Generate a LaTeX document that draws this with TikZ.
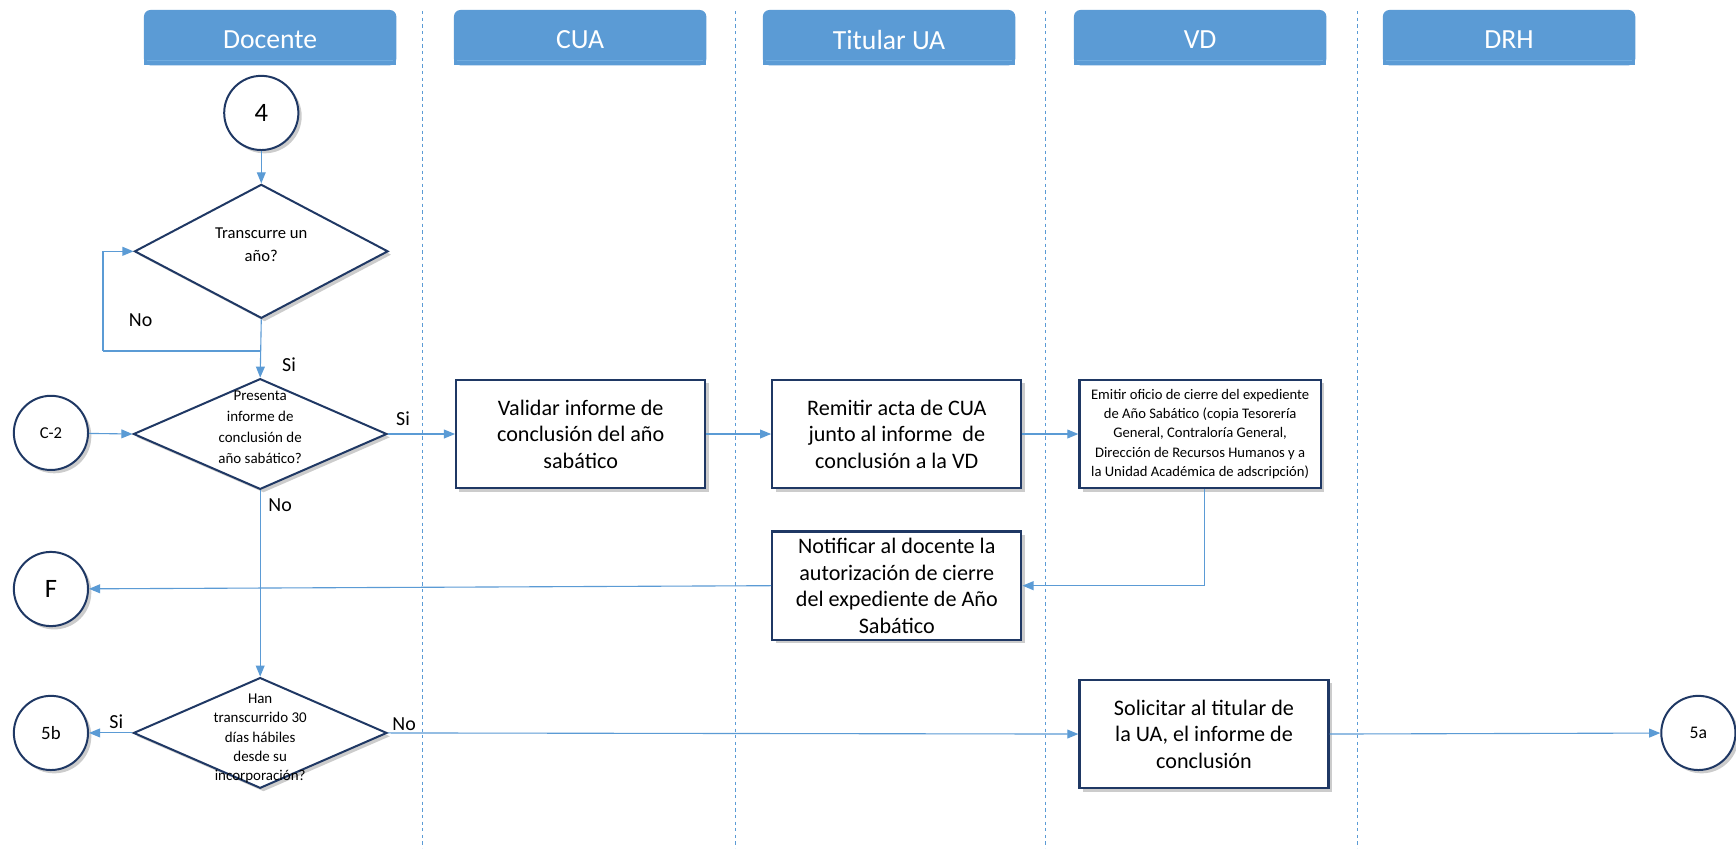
\documentclass[tikz,border=0pt]{standalone}
\usepackage{fontspec}
\setmainfont{Carlito}
\usetikzlibrary{shapes.geometric,arrows.meta,shadows}
\definecolor{hdr}{RGB}{91,155,213}
\definecolor{hdrhi}{RGB}{112,172,224}
\definecolor{lnblue}{RGB}{91,155,213}
\definecolor{navy}{RGB}{31,56,100}
\newcommand\lanehdr[4]{%
  \fill[hdr,rounded corners=6pt] (#2,9) rectangle (#2+228,59);
  \fill[hdr] (#2,30) rectangle (#2+228,59);
  \draw[hdrhi,line width=0.8pt] (#2+3,55) -- (#2+225,55);
  \node[hdrtext] (#1) at (#2+114,36) {#3};
}
\begin{document}
\begin{tikzpicture}[x=1pt,y=-1pt,
  hdrtext/.style={text=white,font=\fontsize{25}{30}\selectfont,inner sep=0pt},
  lane/.style={lnblue,line width=0.8pt,dash pattern=on 3pt off 3pt},
  conn/.style={lnblue,line width=1pt,-{Triangle[length=10pt,width=8pt]}},
  plain/.style={lnblue,line width=1pt},
  shad/.style={drop shadow={shadow xshift=3pt,shadow yshift=-3pt,fill=black,opacity=0.2}},
  procbox/.style={rectangle,draw=navy,line width=2pt,fill=white,shad,
    minimum width=225pt,minimum height=98pt,align=center,inner sep=2pt,
    font=\fontsize{20}{24}\selectfont},
  dec/.style={diamond,draw=navy,line width=1.8pt,fill=white,shad,inner sep=0pt,
    minimum width=229pt},
  dectext/.style={align=center,inner sep=0pt,font=\fontsize{13.5}{17.5}\selectfont},
  conncirc/.style={circle,draw=navy,line width=1.8pt,fill=white,shad,
    minimum size=67pt,inner sep=0pt},
  lbl/.style={inner sep=0pt,font=\fontsize{18}{21}\selectfont}]
\useasboundingbox (0,0) rectangle (1568,766);
\fill[white] (0,0) rectangle (1568,766);
% lanes
\foreach \xx in {382,664,944,1226} \draw[lane] (\xx,10) -- (\xx,766);
\lanehdr{hD}{130}{Docente}{}
\lanehdr{hC}{410}{CUA}{}
\lanehdr{hT}{689}{Titular UA}{}
\lanehdr{hV}{970}{VD}{}
\lanehdr{hR}{1249}{DRH}{}
% nodes
\node[conncirc,font=\fontsize{24}{28}\selectfont] (c4) at (236,102) {4};
\node[dec,minimum height=121pt] (d1) at (236,227) {};
\node[dectext,font=\fontsize{15}{20}\selectfont] (t1) at (236,221) {Transcurre un\\año?};
\node[dec,minimum height=100pt] (d2) at (235,392) {};
\node[dectext,font=\fontsize{13.5}{19}\selectfont] (t2) at (235,386) {Presenta\\informe de\\conclusión de\\año sabático?};
\node[conncirc,font=\fontsize{15}{18}\selectfont] (cC2) at (46,391) {C-2};
\node[procbox] (val) at (524.5,392) {Validar informe de\\conclusión del año\\sabático};
\node[procbox] (rem) at (810,392) {Remitir acta de CUA\\junto al informe~ de\\conclusión a la VD};
\node[procbox,minimum width=218pt,font=\fontsize{13.2}{17.5}\selectfont] (emi) at (1084,392)
  {Emitir oficio de cierre del expediente\\de Año Sabático (copia Tesorería\\General, Contraloría General,\\Dirección de Recursos Humanos y a\\la Unidad Académica de adscripción)};
\node[procbox] (not) at (810,529) {Notificar al docente la\\autorización de cierre\\del expediente de Año\\Sabático};
\node[conncirc,font=\fontsize{24}{28}\selectfont] (cF) at (46,532) {F};
\node[dec,minimum height=100pt] (d3) at (235,662) {};
\node[dectext] (t3) at (235,667) {Han\\transcurrido 30\\días hábiles\\desde su\\incorporación?};
\node[conncirc,font=\fontsize{17}{20}\selectfont] (c5b) at (46,662) {5b};
\node[procbox] (sol) at (1087.5,663) {Solicitar al titular de\\la UA, el informe de\\conclusión};
\node[conncirc,font=\fontsize{16}{19}\selectfont] (c5a) at (1534,662) {5a};
% connectors
\draw[conn] (c4) -- (d1.north);
\coordinate (lp) at (236,317);
\coordinate (lq) at (93,317);
\draw[plain] (lp) -- (lq);
\draw[conn] (lq) |- (d1.west);
\draw[conn] (d1.south) -- (d2.north);
\draw[conn] (cC2) -- (d2.west);
\draw[conn] (d2.east) -- (val.west);
\draw[conn] (val.east) -- (rem.west);
\draw[conn] (rem.east) -- (emi.west);
\coordinate (eb) at ([xshift=4pt]emi.south);
\draw[conn] (eb) |- (not.east);
\draw[conn] (not.west) -- (cF);
\draw[conn] (d2.south) -- (d3.north);
\draw[conn] (d3.west) -- (c5b);
\draw[conn] (d3.east) -- (sol.west);
\draw[conn] (sol.east) -- (c5a);
% labels
\node[lbl] (lNo1) at (127,289) {No};
\node[lbl] (lSi1) at (261,329) {Si};
\node[lbl] (lSi2) at (364,378) {Si};
\node[lbl] (lNo2) at (253,456) {No};
\node[lbl] (lSi3) at (105,652) {Si};
\node[lbl] (lNo3) at (365,654) {No};
\end{tikzpicture}
\end{document}
